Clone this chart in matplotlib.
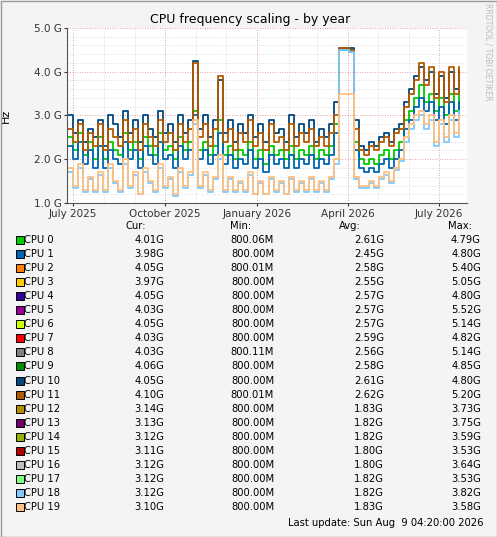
import matplotlib
matplotlib.use("Agg")
import matplotlib.pyplot as plt
import matplotlib.dates as mdates
from matplotlib.patches import Rectangle
import datetime as dt

start = dt.datetime(2025, 6, 26)
step_days = 5

cpu10 = [3.0,2.6,2.9,2.4,2.7,2.5,2.9,2.3,3.0,2.8,
         2.5,3.1,2.6,2.9,2.4,3.0,2.7,2.5,3.1,2.6,
         2.8,2.4,3.0,2.6,2.9,4.25,2.7,3.0,2.5,2.9,
         3.8,2.6,2.9,2.4,2.8,2.6,3.0,2.5,2.8,2.4,
         2.9,2.6,2.7,2.4,3.0,2.5,2.8,2.6,2.9,2.4,
         2.7,2.5,2.8,3.3,4.55,4.55,4.55,2.9,2.3,2.2,
         2.4,2.3,2.5,2.6,2.4,2.7,2.8,3.3,3.6,3.9,
         4.1,3.8,4.0,3.5,3.9,3.4,4.0,3.6,4.05]
cpu11 = [2.7,2.4,2.8,2.2,2.6,2.3,2.8,2.2,2.7,2.5,
         2.3,2.9,2.4,2.7,2.2,2.8,2.5,2.3,2.9,2.4,
         2.6,2.2,2.8,2.4,2.7,4.2,2.5,2.8,2.3,2.7,
         3.9,2.4,2.7,2.2,2.6,2.4,2.9,2.3,2.6,2.2,
         2.8,2.4,2.5,2.2,2.8,2.3,2.6,2.4,2.7,2.3,
         2.5,2.3,2.6,3.0,4.55,4.55,4.5,2.7,2.2,2.1,
         2.3,2.2,2.4,2.5,2.3,2.6,2.7,3.2,3.5,3.8,
         4.2,3.7,4.1,3.4,4.0,3.3,4.1,3.5,4.1]
cpu1 = [2.3,2.0,2.4,1.9,2.2,1.8,2.3,1.8,2.2,2.0,
        1.9,2.4,2.0,2.2,1.8,2.3,2.1,1.9,2.4,2.0,
        2.1,1.8,2.3,2.0,2.2,3.0,2.0,2.2,1.9,2.1,
        2.6,1.9,2.1,1.8,2.0,1.9,2.2,1.8,2.0,1.7,
        2.1,1.9,2.0,1.8,2.1,1.8,2.0,1.9,2.1,1.8,
        2.0,1.9,2.1,2.6,4.5,4.5,4.45,2.2,1.8,1.7,
        1.8,1.7,1.9,2.0,1.8,2.0,2.2,2.7,2.9,3.2,
        3.4,3.1,3.3,2.9,3.2,2.8,3.3,2.9,3.3]
cpu0 = [2.5,2.2,2.6,2.1,2.4,2.0,2.5,2.0,2.4,2.2,
        2.1,2.6,2.2,2.4,2.0,2.5,2.3,2.1,2.6,2.2,
        2.3,2.0,2.5,2.2,2.4,3.1,2.2,2.4,2.1,2.3,
        2.9,2.1,2.3,2.0,2.2,2.1,2.4,2.0,2.2,1.9,
        2.3,2.1,2.2,2.0,2.3,2.0,2.2,2.1,2.3,2.0,
        2.2,2.1,2.3,2.8,4.5,4.5,4.5,2.4,2.0,1.9,
        2.0,1.9,2.1,2.2,2.0,2.2,2.4,2.9,3.1,3.4,
        3.7,3.3,3.5,3.1,3.4,3.0,3.5,3.1,3.6]
cpu18 = [1.7,1.35,1.8,1.25,1.55,1.25,1.65,1.25,1.8,1.45,
         1.25,1.9,1.35,1.65,1.2,1.7,1.45,1.25,1.8,1.35,
         1.55,1.15,1.7,1.35,1.65,2.8,1.35,1.65,1.25,1.55,
         2.0,1.25,1.55,1.25,1.45,1.25,1.65,1.2,1.45,1.2,
         1.55,1.25,1.45,1.2,1.55,1.25,1.45,1.25,1.55,1.25,
         1.45,1.25,1.55,1.9,4.5,4.5,4.45,1.55,1.35,1.35,
         1.45,1.35,1.55,1.65,1.45,1.75,1.95,2.4,2.7,2.9,
         3.0,2.7,2.9,2.3,2.8,2.4,2.9,2.5,3.1]
cpu19 = [1.8,1.4,1.9,1.3,1.6,1.3,1.7,1.3,1.9,1.5,
         1.3,2.0,1.4,1.7,1.2,1.8,1.5,1.3,1.9,1.4,
         1.6,1.2,1.8,1.4,1.7,2.9,1.4,1.7,1.3,1.6,
         2.1,1.3,1.6,1.3,1.5,1.3,1.7,1.2,1.5,1.2,
         1.6,1.3,1.5,1.2,1.6,1.3,1.5,1.3,1.6,1.3,
         1.5,1.3,1.6,2.0,3.5,3.5,3.5,1.6,1.4,1.4,
         1.5,1.4,1.6,1.7,1.5,1.8,2.0,2.5,2.8,3.0,
         3.1,2.8,3.0,2.4,2.9,2.5,3.0,2.6,3.0]

cpu_names = [f"CPU {i}" for i in range(20)]
cpu_colors = ["#00CC00","#0066B3","#FF8000","#FFCC00","#330099","#990099","#CCFF00",
              "#FF0000","#808080","#008F00","#00487D","#B35A00","#B38F00","#6B006B",
              "#8FB300","#B30000","#BEBEBE","#80FF80","#80C9FF","#FFC080"]
cur = ["4.01G","3.98G","4.05G","3.97G","4.05G","4.03G","4.05G","4.03G","4.03G","4.06G",
       "4.05G","4.10G","3.14G","3.13G","3.12G","3.11G","3.12G","3.12G","3.12G","3.10G"]
mins = ["800.06M","800.00M","800.01M","800.00M","800.00M","800.00M","800.00M","800.00M",
        "800.11M","800.00M","800.00M","800.01M","800.00M","800.00M","800.00M","800.00M",
        "800.00M","800.00M","800.00M","800.00M"]
avgs = ["2.61G","2.45G","2.58G","2.55G","2.57G","2.57G","2.57G","2.59G","2.56G","2.58G",
        "2.61G","2.62G","1.83G","1.82G","1.82G","1.80G","1.80G","1.82G","1.82G","1.83G"]
maxs = ["4.79G","4.80G","5.40G","5.05G","4.80G","5.52G","5.14G","4.82G","5.14G","4.85G",
        "4.80G","5.20G","3.73G","3.75G","3.59G","3.53G","3.64G","3.53G","3.82G","3.58G"]
month_ticks = [dt.datetime(2025,7,1), dt.datetime(2025,10,1), dt.datetime(2026,1,1),
               dt.datetime(2026,4,1), dt.datetime(2026,7,1)]
month_labels = ["July 2025","October 2025","January 2026","April 2026","July 2026"]

series = [(0, cpu0), (1, cpu1), (10, cpu10), (11, cpu11), (18, cpu18), (19, cpu19)]
dates = [start + dt.timedelta(days=step_days*i) for i in range(len(cpu10))]

W, H = 497, 537
fig = plt.figure(figsize=(W/100, H/100), dpi=100, facecolor="#F4F4F4")
ax = fig.add_axes([67/W, 1-203/H, 400/W, 175/H])
ax.set_facecolor("white")
for idx, vals in series:
    ax.step(dates, vals, where="post", color=cpu_colors[idx], lw=1.3)

ax.set_xlim(dt.datetime(2025,6,25), dt.datetime(2026,7,29))
ax.set_ylim(1.0, 5.0)
ax.set_yticks([1,2,3,4,5])
ax.set_yticklabels(["1.0 G","2.0 G","3.0 G","4.0 G","5.0 G"])
ax.set_yticks([1+0.2*k for k in range(21)], minor=True)
ax.set_xticks(month_ticks)
ax.set_xticklabels(month_labels)
ax.set_xticks([dt.datetime(2025+(m-1)//12, (m-1)%12+1, 1) for m in range(7, 20)], minor=True)
ax.grid(which="major", color="#E08080", ls=(0,(1,2)), lw=0.6)
ax.grid(which="minor", color="#C8C8C8", ls=(0,(1,2)), lw=0.5)
ax.tick_params(labelsize=7.5, length=2, colors="#333333", pad=2)
ax.tick_params(which="minor", length=0)
for s in ["top","right"]:
    ax.spines[s].set_visible(False)
for s in ["left","bottom"]:
    ax.spines[s].set_color("#555555")
ax.set_ylabel("Hz", fontsize=8)
ax.yaxis.set_label_coords(-0.14, 0.5)

fig.text(250/W, 1-20/H, "CPU frequency scaling - by year", ha="center", va="center", fontsize=9)
fig.text(488/W, 1-52/H, "RRDTOOL / TOBI OETIKER", rotation=270, ha="center", va="center",
         fontsize=5.5, color="#BBBBBB")

fs = 7.2
y0 = 226
fig.text(146/W, 1-y0/H, "Cur:", ha="right", va="center", fontsize=fs)
fig.text(251/W, 1-y0/H, "Min:", ha="right", va="center", fontsize=fs)
fig.text(361/W, 1-y0/H, "Avg:", ha="right", va="center", fontsize=fs)
fig.text(472/W, 1-y0/H, "Max:", ha="right", va="center", fontsize=fs)
for i in range(20):
    y = 240 + i*14.05
    fig.patches.append(Rectangle((16/W, 1-(y+4)/H), 8/W, 8/H, transform=fig.transFigure,
                                 facecolor=cpu_colors[i], edgecolor="black", lw=0.7))
    fig.text(24/W, 1-y/H, cpu_names[i], ha="left", va="center", fontsize=fs)
    fig.text(164/W, 1-y/H, cur[i], ha="right", va="center", fontsize=fs)
    fig.text(274/W, 1-y/H, mins[i], ha="right", va="center", fontsize=fs)
    fig.text(384/W, 1-y/H, avgs[i], ha="right", va="center", fontsize=fs)
    fig.text(481/W, 1-y/H, maxs[i], ha="right", va="center", fontsize=fs)
fig.text(483/W, 1-523/H, "Last update: Sun Aug  9 04:20:00 2026", ha="right", va="center", fontsize=fs)
fig.patches.append(Rectangle((0.5/W, 0.5/H), 1-1/W, 1-1/H, transform=fig.transFigure,
                             fill=False, edgecolor="#999999", lw=1))
fig.savefig("out.png", dpi=100, facecolor=fig.get_facecolor())
